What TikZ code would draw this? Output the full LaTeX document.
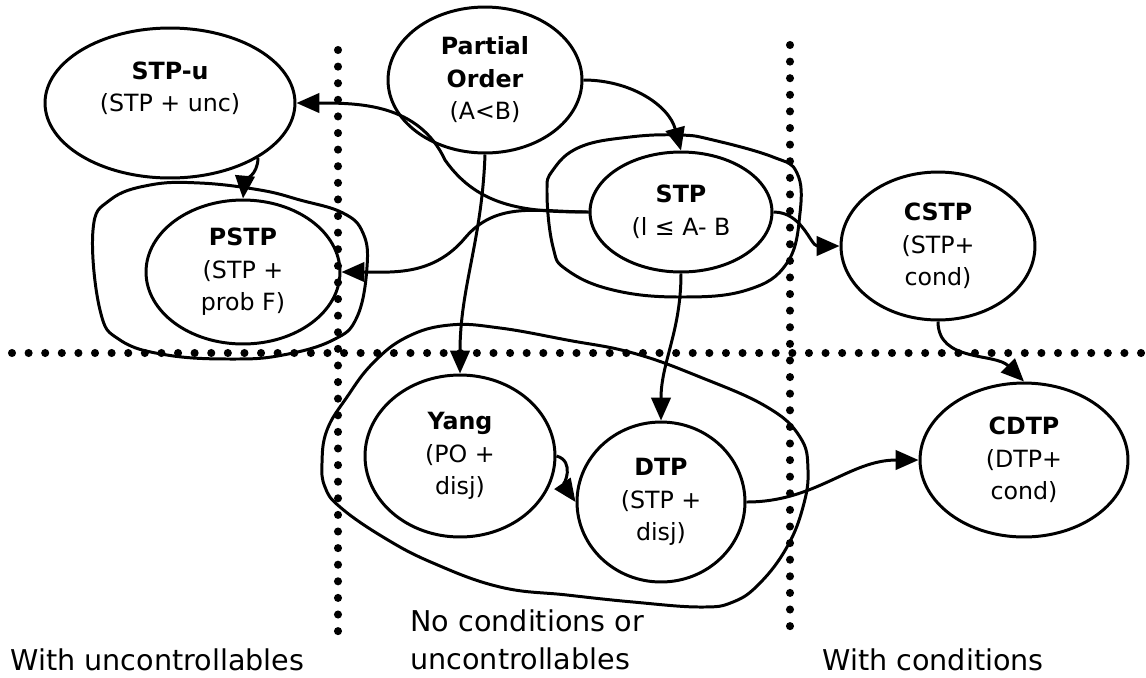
\documentclass[tikz,border=0pt]{standalone}
\usepackage{fontspec}
\setmainfont{DejaVu Sans}
\usepackage{tikz}
\usetikzlibrary{shapes.geometric,arrows.meta}

\tikzset{
  tpn/.style={ellipse, draw, line width=1.7pt, inner sep=0pt, align=center,
    font=\fontsize{13.5}{18.5}\selectfont},
  flow/.style={line width=1.7pt, -{Triangle[length=13pt,width=11pt]}},
  hull/.style={line width=1.7pt},
  divider/.style={line width=4.6pt, line cap=round, dash pattern=on 0pt off 9.45pt},
  region/.style={font=\fontsize{16.3}{21.6}\selectfont, align=left, inner sep=0pt}
}

\begin{document}
\begin{tikzpicture}[x=0.02cm, y=-0.02cm]
  \useasboundingbox (0,0) rectangle (1146,677);

  % dotted lines splitting the four quadrants
  \draw[divider] (338,50) -- (338,632);
  \draw[divider] (790,45) -- (790,632);
  \draw[divider] (12,353) -- (1146,353);

  % problem classes
  \node[tpn, minimum width=5cm, minimum height=3cm] (stpu) at (170,103)
    {\textbf{STP-u}\\(STP + unc)\\\mbox{}};
  \node[tpn, minimum width=3.88cm, minimum height=2.92cm] (po) at (485,80)
    {\textbf{Partial}\\\textbf{Order}\\(A<B)};
  \node[tpn, minimum width=3.64cm, minimum height=2.4cm] (stp) at (681,212)
    {\textbf{STP}\\(l ≤ A- B};
  \node[tpn, minimum width=3.88cm, minimum height=2.96cm] (cstp) at (938,246)
    {\textbf{CSTP}\\(STP+\\cond)};
  \node[tpn, minimum width=3.88cm, minimum height=2.88cm] (pstp) at (243,272)
    {\textbf{PSTP}\\(STP +\\prob F)};
  \node[tpn, minimum width=3.8cm, minimum height=3.24cm] (yang) at (460,456)
    {\textbf{Yang}\\(PO +\\disj)};
  \node[tpn, minimum width=3.36cm, minimum height=3.2cm] (dtp) at (661,502)
    {\textbf{DTP}\\(STP +\\disj)};
  \node[tpn, minimum width=4.16cm, minimum height=3.08cm] (cdtp) at (1024,460)
    {\textbf{CDTP}\\(DTP+\\cond)};

  % hand-drawn hulls round the groups
  \draw[hull] plot[smooth cycle, tension=0.7] coordinates {(93,230) (100,310)
    (120,340) (167,355) (233,359) (283,355) (333,340) (357,317) (367,267)
    (363,233) (343,213) (300,200) (260,190) (200,183) (150,185) (110,200)};
  \draw[hull] plot[smooth cycle, tension=0.7] coordinates {(547,193) (553,247)
    (567,270) (613,290) (680,297) (747,290) (787,263) (800,213) (797,173)
    (773,157) (713,140) (680,135) (630,137) (580,147) (553,170)};
  \draw[hull] plot[smooth cycle, tension=0.7] coordinates {(322,463) (327,430)
    (347,397) (373,363) (407,337) (450,325) (500,328) (567,340) (633,353)
    (700,377) (767,407) (800,437) (808,470) (803,507) (787,547) (760,583)
    (733,602) (700,607) (633,602) (567,595) (500,587) (433,563) (383,537)
    (340,507) (325,487)};

  % generalisation arrows
  \coordinate (bendu) at (445,160);
  \coordinate (bendp) at (465,238);
  \draw[flow] (stp.west) to[out=180,in=-55] (bendu) to[out=115,in=0] (stpu.east);
  \draw[flow] (stp.west) to[out=180,in=50] (bendp) to[out=-130,in=0] (pstp.east);
  \draw[flow] (po.south) to[out=-92,in=90] (yang.north);
  \draw[flow] (po.east) to[out=0,in=105] (stp.north);
  \draw[flow] (stpu.-32) to[out=-90,in=85] (pstp.north);
  \draw[flow] (stp.east) to[out=0,in=180] (cstp.west);
  \draw[flow] (stp.south) to[out=-90,in=90] (dtp.north);
  \draw[flow] (cstp.south) to[out=-90,in=135] (cdtp.north);
  \draw[flow] (yang.east) to[out=-15,in=125] (dtp.west);
  \draw[flow] (dtp.east) to[out=0,in=180] (cdtp.west);

  % quadrant captions
  \node[region, anchor=base west] (unc) at (10,670) {With uncontrollables};
  \node[region, anchor=north west] (none) at (410,609) {No conditions or\\uncontrollables};
  \node[region, anchor=base west] (cond) at (822,670) {With conditions};
\end{tikzpicture}
\end{document}
